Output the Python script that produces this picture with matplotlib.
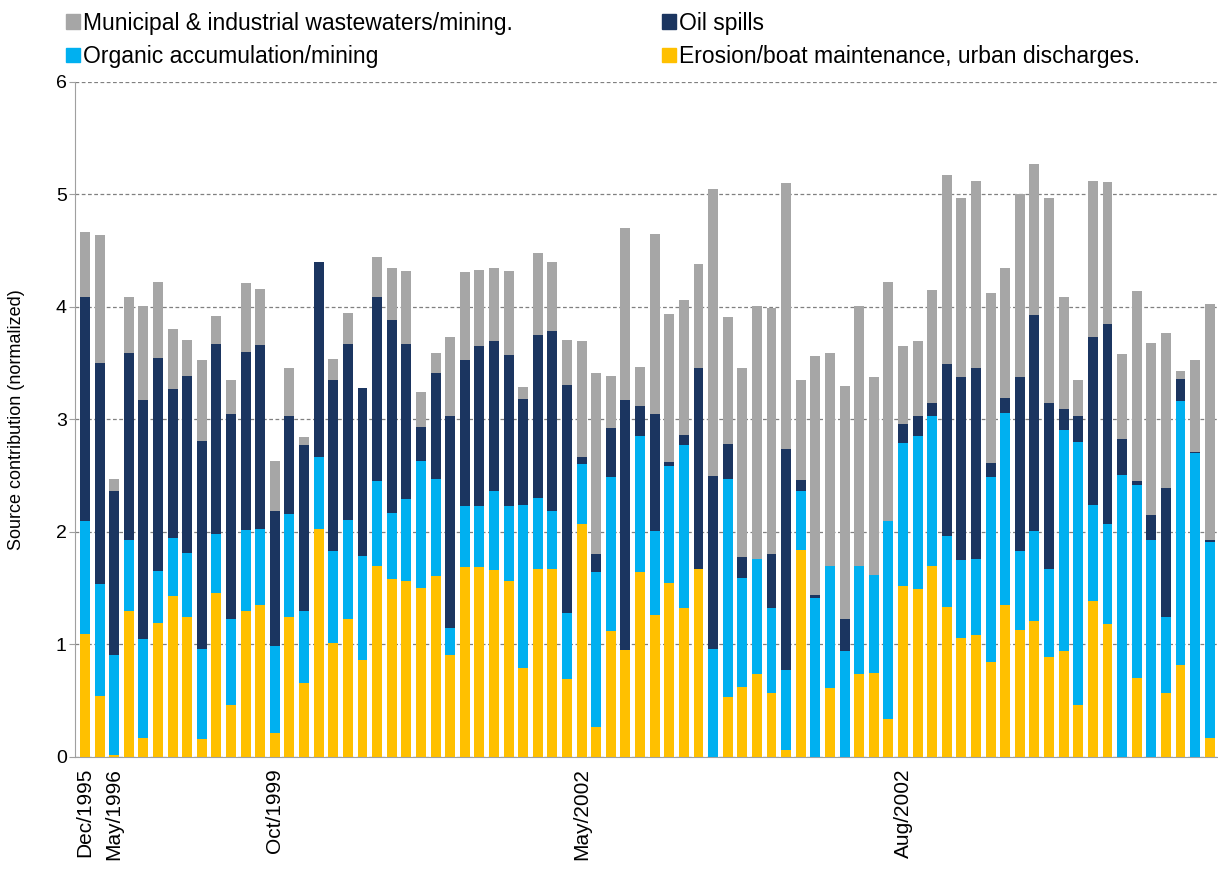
import matplotlib.pyplot as plt
import numpy as np
from matplotlib.patches import Patch

plt.rcParams['font.family'] = ['Liberation Sans', 'DejaVu Sans']

# segment values per sample (bottom to top)
erosion = [1.09, 0.54, 0.02, 1.30, 0.17, 1.19, 1.43, 1.24, 0.16, 1.46,
           0.46, 1.30, 1.35, 0.21, 1.24, 0.66, 2.03, 1.01, 1.23, 0.86,
           1.70, 1.58, 1.56, 1.50, 1.61, 0.91, 1.69, 1.69, 1.66, 1.56,
           0.79, 1.67, 1.67, 0.69, 2.07, 0.27, 1.12, 0.95, 1.64, 1.26,
           1.55, 1.32, 1.67, 0.00, 0.53, 0.62, 0.74, 0.57, 0.06, 1.84,
           0.00, 0.61, 0.00, 0.74, 0.75, 0.34, 1.52, 1.49, 1.70, 1.33,
           1.06, 1.08, 0.84, 1.35, 1.13, 1.21, 0.89, 0.94, 0.46, 1.39,
           1.18, 0.00, 0.70, 0.00, 0.57, 0.82, 0.00, 0.17]
organic = [1.01, 1.00, 0.89, 0.63, 0.88, 0.46, 0.52, 0.57, 0.80, 0.52,
           0.77, 0.72, 0.68, 0.78, 0.92, 0.64, 0.64, 0.82, 0.88, 0.93,
           0.75, 0.59, 0.73, 1.13, 0.86, 0.24, 0.54, 0.54, 0.70, 0.67,
           1.45, 0.63, 0.52, 0.59, 0.53, 1.37, 1.37, 0.00, 1.21, 0.75,
           1.04, 1.45, 0.00, 0.96, 1.94, 0.97, 1.02, 0.75, 0.71, 0.52,
           1.41, 1.09, 0.94, 0.96, 0.87, 1.76, 1.27, 1.36, 1.33, 0.63,
           0.69, 0.68, 1.65, 1.71, 0.70, 0.80, 0.78, 1.97, 2.34, 0.85,
           0.89, 2.51, 1.72, 1.93, 0.67, 2.34, 2.70, 1.74]
oil = [1.99, 1.96, 1.45, 1.66, 2.12, 1.90, 1.32, 1.58, 1.85, 1.69,
       1.82, 1.58, 1.63, 1.20, 0.87, 1.47, 1.73, 1.52, 1.56, 1.49,
       1.64, 1.71, 1.38, 0.30, 0.94, 1.88, 1.30, 1.42, 1.34, 1.34,
       0.94, 1.45, 1.60, 2.03, 0.07, 0.16, 0.43, 2.22, 0.27, 1.04,
       0.03, 0.09, 1.79, 1.54, 0.31, 0.19, 0.00, 0.48, 1.97, 0.10,
       0.03, 0.00, 0.29, 0.00, 0.00, 0.00, 0.17, 0.18, 0.12, 1.53,
       1.63, 1.70, 0.12, 0.13, 1.55, 1.92, 1.48, 0.18, 0.23, 1.49,
       1.78, 0.32, 0.03, 0.22, 1.15, 0.20, 0.01, 0.02]
municipal = [0.58, 1.14, 0.11, 0.50, 0.84, 0.67, 0.53, 0.32, 0.72, 0.25,
             0.30, 0.61, 0.50, 0.44, 0.43, 0.07, 0.00, 0.19, 0.28, 0.00,
             0.35, 0.47, 0.65, 0.31, 0.18, 0.70, 0.78, 0.68, 0.65, 0.75,
             0.11, 0.73, 0.61, 0.40, 1.03, 1.61, 0.47, 1.53, 0.35, 1.60,
             1.32, 1.20, 0.92, 2.55, 1.13, 1.68, 2.25, 2.19, 2.36, 0.89,
             2.12, 1.89, 2.07, 2.31, 1.76, 2.12, 0.69, 0.67, 1.00, 1.68,
             1.59, 1.66, 1.51, 1.16, 1.62, 1.34, 1.82, 1.00, 0.32, 1.39,
             1.26, 0.75, 1.69, 1.53, 1.38, 0.07, 0.82, 2.10]

# only a few samples carry a date label
date_labels = {0: 'Dec/1995', 2: 'May/1996', 13: 'Oct/1999', 34: 'May/2002', 56: 'Aug/2002'}

c_ero = '#FFC000'
c_org = '#00B0F0'
c_oil = '#1B3560'
c_mun = '#A6A6A6'

n = len(erosion)
x = np.arange(n)
ero = np.array(erosion)
org = np.array(organic)
oil_ = np.array(oil)
mun = np.array(municipal)

fig = plt.figure(figsize=(12.18, 8.69), dpi=100)
ax = fig.add_axes([0.0616, 0.1289, 0.9376, 0.7768])

w = 0.68
ax.bar(x, ero, w, color=c_ero, zorder=3)
ax.bar(x, org, w, bottom=ero, color=c_org, zorder=3)
ax.bar(x, oil_, w, bottom=ero + org, color=c_oil, zorder=3)
ax.bar(x, mun, w, bottom=ero + org + oil_, color=c_mun, zorder=3)

ax.set_xlim(-0.68, n - 0.5)
ax.set_ylim(0, 6)
ax.set_yticks(range(0, 7))
ax.yaxis.grid(True, linestyle=(0, (3, 2)), color='#808080', linewidth=0.9, zorder=0)
ax.tick_params(axis='y', labelsize=14, length=4, color='#A0A0A0', pad=2)

ax.set_xticks(x)
ax.set_xticklabels([date_labels.get(i, '') for i in x], rotation=90, fontsize=15)
ax.tick_params(axis='x', length=0, pad=8)

ax.spines['top'].set_visible(False)
ax.spines['right'].set_visible(False)
ax.spines['left'].set_color('#A0A0A0')
ax.spines['bottom'].set_color('#A0A0A0')
ax.set_ylabel('Source contribution (normalized)', fontsize=13, labelpad=22)

h_mun = Patch(color=c_mun, label='Municipal & industrial wastewaters/mining.')
h_org = Patch(color=c_org, label='Organic accumulation/mining')
h_oil = Patch(color=c_oil, label='Oil spills')
h_ero = Patch(color=c_ero, label='Erosion/boat maintenance, urban discharges.')

leg_kw = dict(frameon=False, fontsize=16.5, handlelength=0.6, handleheight=0.6,
              handletextpad=0.12, labelspacing=0.45, borderaxespad=0)
fig.legend(handles=[h_mun, h_org], loc='upper left', bbox_to_anchor=(0.047, 0.997), **leg_kw)
fig.legend(handles=[h_oil, h_ero], loc='upper left', bbox_to_anchor=(0.536, 0.997), **leg_kw)

fig.savefig('out.png', dpi=100)
